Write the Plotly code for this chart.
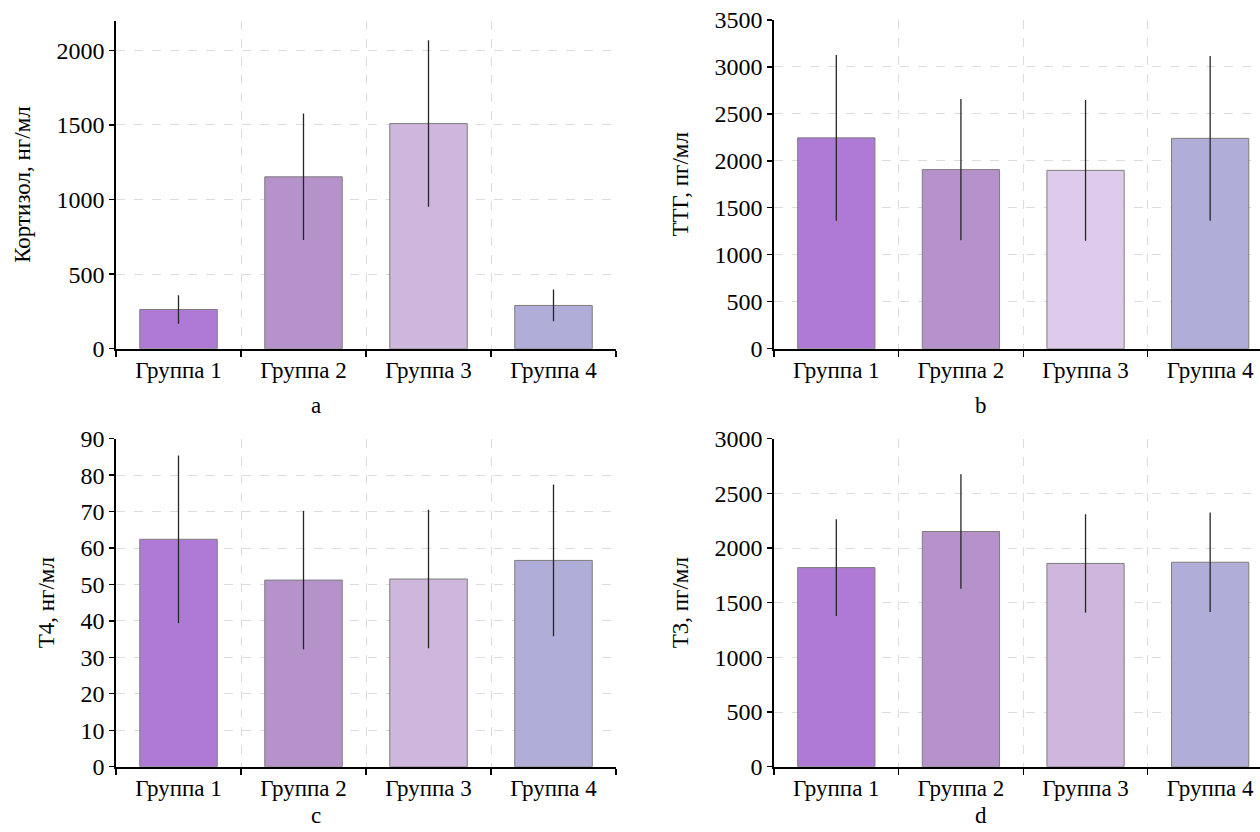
import plotly.graph_objects as go

categories = ["Группа 1", "Группа 2", "Группа 3", "Группа 4"]

cortisol = [263, 1152, 1509, 290]
cortisol_err = [96, 424, 558, 106]

tsh = [2245, 1907, 1899, 2240]
tsh_err = [882, 751, 749, 878]

t4 = [62.4, 51.2, 51.5, 56.6]
t4_err = [23.0, 19.0, 19.0, 20.8]

t3 = [1821, 2151, 1859, 1870]
t3_err = [442, 523, 450, 454]

y_titles = ["Кортизол, нг/мл", "ТТГ, пг/мл", "Т4, нг/мл", "Т3, пг/мл"]
panel_letters = ["a", "b", "c", "d"]

colors_std = ["#AF7AD6", "#B692CA", "#CFB6DC", "#B0AED8"]
colors_b = ["#AF7AD6", "#B692CA", "#DECBEC", "#B0AED8"]

W, H = 1260, 832
FONT = "Liberation Serif, Times New Roman, serif"

panels = [
    dict(vals=cortisol, err=cortisol_err, colors=colors_std, yr=[0, 2200], dtick=500,
         xd=(116, 616), yd=(20.5, 348.7), xr=[-0.5, 3.5]),
    dict(vals=tsh, err=tsh_err, colors=colors_b, yr=[0, 3500], dtick=500,
         xd=(774, 1260), yd=(20.0, 348.7), xr=[-0.5, 3.4]),
    dict(vals=t4, err=t4_err, colors=colors_std, yr=[0, 90], dtick=10,
         xd=(116, 616), yd=(438.7, 766.7), xr=[-0.5, 3.5]),
    dict(vals=t3, err=t3_err, colors=colors_std, yr=[0, 3000], dtick=500,
         xd=(774, 1260), yd=(438.7, 766.7), xr=[-0.5, 3.4]),
]

fig = go.Figure()
layout = dict(
    width=W, height=H,
    margin=dict(l=0, r=0, t=0, b=0, autoexpand=False),
    paper_bgcolor="white", plot_bgcolor="white",
    showlegend=False,
    font=dict(family=FONT, size=22, color="black"),
    annotations=[],
)

for i, p in enumerate(panels):
    n = i + 1
    xa = "x" if n == 1 else f"x{n}"
    ya = "y" if n == 1 else f"y{n}"
    fig.add_trace(go.Bar(
        x=categories, y=p["vals"],
        xaxis=xa, yaxis=ya,
        marker=dict(color=p["colors"], line=dict(color="#7d7d7d", width=1)),
        width=0.62,
        error_y=dict(type="data", array=p["err"], visible=True,
                     color="#262626", thickness=1.3, width=0),
        hoverinfo="skip",
    ))
    xkey = "xaxis" if n == 1 else f"xaxis{n}"
    ykey = "yaxis" if n == 1 else f"yaxis{n}"
    layout[xkey] = dict(
        domain=[p["xd"][0] / W, p["xd"][1] / W],
        anchor=ya, type="category", range=p["xr"],
        tickson="boundaries", ticks="outside", ticklen=6, tickwidth=1.3,
        tickcolor="black",
        showline=True, linecolor="black", linewidth=1.8,
        showgrid=True, gridcolor="#dcdcdc", griddash="dash", gridwidth=1,
        tickfont=dict(family=FONT, size=23, color="black"),
        automargin=False,
        fixedrange=True,
    )
    layout[ykey] = dict(
        domain=[1 - p["yd"][1] / H, 1 - p["yd"][0] / H],
        anchor=xa, range=p["yr"], dtick=p["dtick"], tick0=0,
        ticks="outside", ticklen=5, tickwidth=1.3, tickcolor="black",
        showline=True, linecolor="black", linewidth=1.8,
        showgrid=True, gridcolor="#dcdcdc", griddash="dash", gridwidth=1,
        zeroline=False,
        tickfont=dict(family=FONT, size=24, color="black"),
        title=dict(text=y_titles[i], font=dict(family=FONT, size=23, color="black"),
                   standoff=19),
        automargin=False,
        fixedrange=True,
    )

letter_pos = [(316, 405), (981, 405), (316, 815), (981, 815)]
for (lx, ly), letter in zip(letter_pos, panel_letters):
    layout["annotations"].append(dict(
        text=letter, x=lx / W, y=1 - ly / H, xref="paper", yref="paper",
        xanchor="center", yanchor="middle", showarrow=False,
        font=dict(family=FONT, size=23, color="black"),
    ))

fig.update_layout(**layout)
fig.write_html(
    "out.html",
    config={"displayModeBar": False, "staticPlot": True},
    post_script="document.body.style.margin='0';document.body.style.overflow='hidden';",
)
